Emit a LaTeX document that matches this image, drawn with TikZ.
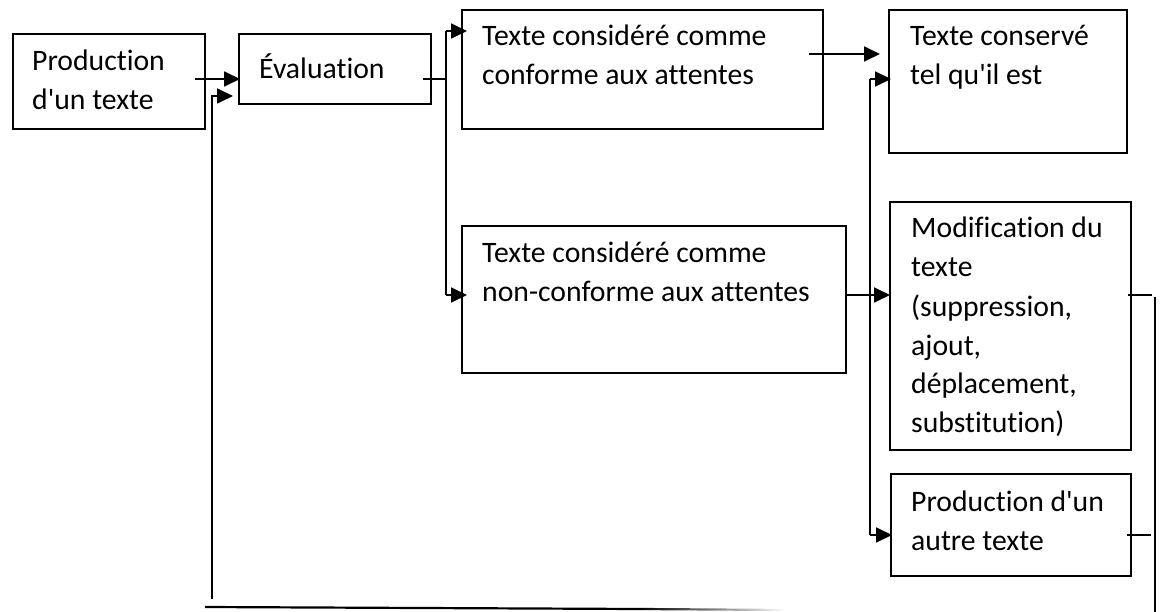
\documentclass[tikz,border=0pt]{standalone}
\usepackage{fontspec}
\setmainfont{Carlito}[Ligatures={TeXOff,NoCommon}]
\usetikzlibrary{arrows.meta,calc}
\tikzset{
  box/.style={draw=black,line width=2pt,rectangle,inner sep=0pt,anchor=north west},
  txt/.style={anchor=base west,inner sep=0pt},
  conn/.style={draw=black,line width=1.8pt},
  arr/.style={conn,-{Triangle[length=16pt,width=15pt]}},
}
\newcommand{\boxtext}[2]{\parbox[t]{#1}{\raggedright\fontsize{29.7}{39}\selectfont #2}}
\begin{document}
\begin{tikzpicture}[x=1pt,y=-1pt]
\useasboundingbox (0,0) rectangle (1161,612);
% boxes
\node[box,minimum width=192pt,minimum height=95pt] (b1) at (12,33) {};
\node[box,minimum width=192pt,minimum height=70pt] (b2) at (238,33) {};
\node[box,minimum width=361pt,minimum height=119pt] (b3) at (461,9) {};
\node[box,minimum width=238pt,minimum height=143pt] (b4) at (888,9) {};
\node[box,minimum width=384pt,minimum height=147pt] (b5) at (461,225) {};
\node[box,minimum width=241pt,minimum height=248pt] (b6) at (889,201) {};
\node[box,minimum width=240pt,minimum height=102pt] (b7) at (890,473) {};
% texts
\node[txt] (t1) at (32,71) {\boxtext{180pt}{Production\\d'un texte}};
\node[txt] (t2) at (259,79) {\boxtext{180pt}{Évaluation}};
\node[txt] (t3) at (482,46) {\boxtext{340pt}{Texte considéré comme\\conforme aux attentes}};
\node[txt] (t4) at (910,46) {\boxtext{220pt}{Texte conservé\\tel qu'il est}};
\node[txt] (t5) at (482,262) {\boxtext{360pt}{Texte considéré comme\\non-conforme aux attentes}};
\node[txt] (t6) at (911,238) {\boxtext{220pt}{Modification du\\texte\\(suppression,\\ajout,\\déplacement,\\substitution)}};
\node[txt] (t7) at (911,511) {\boxtext{220pt}{Production d'un\\autre texte}};
% coordinates for free ends
\coordinate (p1) at (195,79);
\coordinate (f0) at (212,599);
\coordinate (f1) at (212,96);
\coordinate (e0) at (423,79);
\coordinate (e1) at (446,79);
\coordinate (e2) at (446,31);
\coordinate (e3) at (446,295);
\coordinate (c0) at (809,54);
\coordinate (n0) at (845,295);
\coordinate (v1) at (870,79);
\coordinate (v2) at (870,535);
\coordinate (r1) at (1128,295);
\coordinate (r1e) at (1152,295);
\coordinate (r2) at (1127,535);
\coordinate (r2e) at (1151,535);
\coordinate (rv0) at (1155,297);
\coordinate (rv1) at (1155,612);
\coordinate (h0) at (205,607);
\coordinate (h1) at (640,609);
\coordinate (h2) at (785,610);
% connectors
\draw[arr] (p1) -- ([xshift=2pt]b2.west |- p1);
\draw[arr] (f0) -- (f1) -- ([xshift=-5pt]b2.west |- f1);
\draw[conn] (e0) -- (e1);
\draw[conn] (e2) -- (e3);
\draw[arr] (e2) -- ([xshift=6pt]b3.west |- e2);
\draw[arr] (e3) -- ([xshift=6pt]b5.west |- e3);
\draw[arr] (c0) -- ([xshift=-8pt]b4.west |- c0);
\draw[arr] (n0) -- ([xshift=1pt]b6.west |- n0);
\draw[conn] (v1) -- (v2);
\draw[arr] (v1) -- ([xshift=3pt]b4.west |- v1);
\draw[arr] (v2) -- ([xshift=2pt]b7.west |- v2);
\draw[conn] (r1) -- (r1e);
\draw[conn] (r2) -- (r2e);
\draw[conn] (rv0) -- (rv1);
\draw[line width=2.2pt] (h0) -- (h1);
\shade[left color=black,right color=white] ($(h1)+(0,-1.1)$) -- ($(h2)+(0,-1.1)$) -- ($(h2)+(0,1.1)$) -- ($(h1)+(0,1.1)$) -- cycle;
\end{tikzpicture}
\end{document}
